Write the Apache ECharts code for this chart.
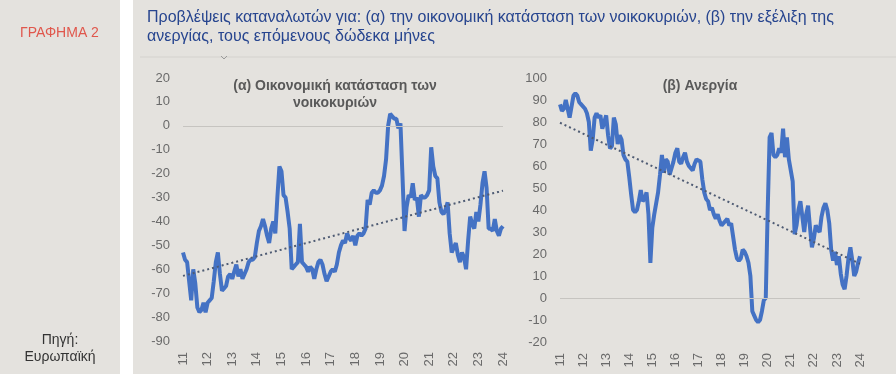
<!DOCTYPE html>
<html><head><meta charset="utf-8">
<script src="https://cdn.jsdelivr.net/npm/echarts@6/dist/echarts.min.js"></script>
<style>html,body{margin:0;padding:0;background:#fff;}#c{width:896px;height:374px;}</style>
</head><body><div id="c"></div>
<script>
const years = ['11','12','13','14','15','16','17','18','19','20','21','22','23','24'];

// (α) Οικονομική κατάσταση των νοικοκυριών — monthly, Jan 2011 .. Jan 2024
const econA = [
-53,-56,-57,-65,-73,-60,-66,-76,-78,-77,-74,-78,
-74,-73,-72,-65,-57,-53,-62,-69,-68,-67,-63,-62,
-64,-61,-58,-63,-60,-64,-62,-60,-57,-56,-56,-55,
-49,-44,-42,-39,-42,-46,-49,-43,-40,-45,-30,-17,
-19,-29,-30,-36,-43,-60,-59,-58,-57,-41,-57,-58,
-59,-61,-59,-60,-64,-60,-57,-56,-58,-62,-65,-63,
-61,-60,-61,-58,-53,-50,-48,-49,-45,-47,-48,-46,
-50,-46,-45,-46,-45,-43,-31,-33,-28,-27,-28,-28,
-27,-25,-21,-14,0,5,4,3,3,-1,1,-21,
-44,-34,-29,-30,-24,-31,-30,-38,-29,-30,-30,-29,
-27,-9,-17,-21,-22,-32,-36,-37,-35,-32,-45,-53,
-51,-49,-54,-57,-53,-55,-60,-48,-38,-41,-43,-36,
-40,-33,-24,-19,-26,-43,-43,-44,-39,-44,-46,-43,
-42
];

// (β) Ανεργία — monthly, Jan 2011 .. Jan 2024
const unempB = [
88,85,86,90,86,82,87,92,93,92,89,88,
88,86,84,80,67,72,82,84,82,83,77,80,
83,74,68,69,82,79,70,74,72,65,63,62,
55,47,40,39,40,44,49,44,45,48,38,16,
32,38,43,48,56,65,57,63,62,56,59,62,
66,68,62,61,64,66,62,60,60,58,61,63,
63,62,54,48,45,44,40,41,38,36,38,35,
33,33,35,36,33,34,28,22,18,17,18,22,
21,19,16,10,-6,-8,-10,-11,-10,-6,-1,0,
40,73,75,65,64,65,68,66,77,64,73,63,
58,53,29,33,40,44,37,30,38,42,32,23,
27,33,31,30,37,41,43,40,34,22,17,21,
15,19,11,6,4,10,18,23,17,10,12,16,
19
];

const months = [];
years.forEach(y => { for (let m = 1; m <= 12; m++) months.push(y + '-' + m); });
const catsA = months.slice(0, econA.length);
const catsB = months.slice(0, unempB.length);

function linTrend(arr) {
  const n = arr.length;
  let sx = 0, sy = 0, sxy = 0, sxx = 0;
  arr.forEach((v, i) => { sx += i; sy += v; sxy += i * v; sxx += i * i; });
  const b = (n * sxy - sx * sy) / (n * sxx - sx * sx);
  const a = (sy - b * sx) / n;
  return arr.map((_, i) => +(a + b * i).toFixed(2));
}

const BG = '#e4e2de';
const BLUE = '#4472c4';
const TREND = '#4e5b73';
const LBL = '#6a6a6a';
const FONT = 'Liberation Sans, Arial, sans-serif';

function xAxisCfg(idx, cats) {
  return {
    type: 'category', gridIndex: idx, data: cats, boundaryGap: false,
    axisLine: { show: false }, axisTick: { show: false }, splitLine: { show: false },
    axisLabel: {
      interval: 11, rotate: 90, margin: 11, color: LBL, fontSize: 13, fontFamily: FONT,
      formatter: v => v.split('-')[0]
    }
  };
}
function yAxisCfg(idx, min, max) {
  return {
    type: 'value', gridIndex: idx, min: min, max: max, interval: 10,
    axisLine: { show: false }, axisTick: { show: false }, splitLine: { show: false },
    axisLabel: { margin: 13, color: LBL, fontSize: 13, fontFamily: FONT }
  };
}
function zeroLine() {
  return {
    silent: true, symbol: 'none', label: { show: false },
    lineStyle: { color: '#c6c4c0', width: 1, type: 'solid' },
    data: [{ yAxis: 0 }]
  };
}

const chart = echarts.init(document.getElementById('c'), null, { renderer: 'canvas' });
chart.setOption({
  backgroundColor: '#ffffff',
  animation: false,
  graphic: [
    { type: 'rect', shape: { x: 0, y: 0, width: 120, height: 374 }, style: { fill: BG }, z: -10 },
    { type: 'rect', shape: { x: 133, y: 0, width: 763, height: 374 }, style: { fill: BG }, z: -10 },
    { type: 'text', left: 20, top: 26, style: { text: 'ΓΡΑΦΗΜΑ 2', fill: '#e0574c', font: '14px ' + FONT } },
    { type: 'text', x: 60, y: 332, style: { text: 'Πηγή:\nΕυρωπαϊκή', fill: '#333333', font: '14px ' + FONT, align: 'center', lineHeight: 17 } },
    { type: 'text', left: 147, top: 8, style: { text: 'Προβλέψεις καταναλωτών για: (α) την οικονομική κατάσταση των νοικοκυριών, (β) την εξέλιξη της\nανεργίας, τους επόμενους δώδεκα μήνες', fill: '#27458f', font: '16px ' + FONT, lineHeight: 19 } },
    { type: 'line', shape: { x1: 140, y1: 57, x2: 896, y2: 57 }, style: { stroke: '#d4d2ce', lineWidth: 1 } },
    { type: 'polyline', shape: { points: [[221, 56], [224, 59], [227, 56]] }, style: { stroke: '#9a9a9a', lineWidth: 1, fill: null } }
  ],
  title: [
    { text: '(α) Οικονομική κατάσταση των\nνοικοκυριών', left: 330, top: 73, textAlign: 'center',
      textStyle: { fontSize: 14, fontWeight: 'bold', color: '#595959', fontFamily: FONT, lineHeight: 17 } },
    { text: '(β) Ανεργία', left: 695, top: 74, textAlign: 'center',
      textStyle: { fontSize: 14, fontWeight: 'bold', color: '#595959', fontFamily: FONT } }
  ],
  grid: [
    { left: 183, top: 78, width: 320, height: 263 },
    { left: 560, top: 78, width: 300, height: 264 }
  ],
  xAxis: [xAxisCfg(0, catsA), xAxisCfg(1, catsB)],
  yAxis: [yAxisCfg(0, -90, 20), yAxisCfg(1, -20, 100)],
  series: [
    { type: 'line', xAxisIndex: 0, yAxisIndex: 0, data: econA, showSymbol: false, z: 3,
      lineStyle: { color: BLUE, width: 4 }, markLine: zeroLine() },
    { type: 'line', xAxisIndex: 0, yAxisIndex: 0, data: linTrend(econA), showSymbol: false, z: 4,
      lineStyle: { color: TREND, width: 2, type: [2, 3] } },
    { type: 'line', xAxisIndex: 1, yAxisIndex: 1, data: unempB, showSymbol: false, z: 3,
      lineStyle: { color: BLUE, width: 4 }, markLine: zeroLine() },
    { type: 'line', xAxisIndex: 1, yAxisIndex: 1, data: linTrend(unempB), showSymbol: false, z: 4,
      lineStyle: { color: TREND, width: 2, type: [2, 3] } }
  ]
});
</script></body></html>
